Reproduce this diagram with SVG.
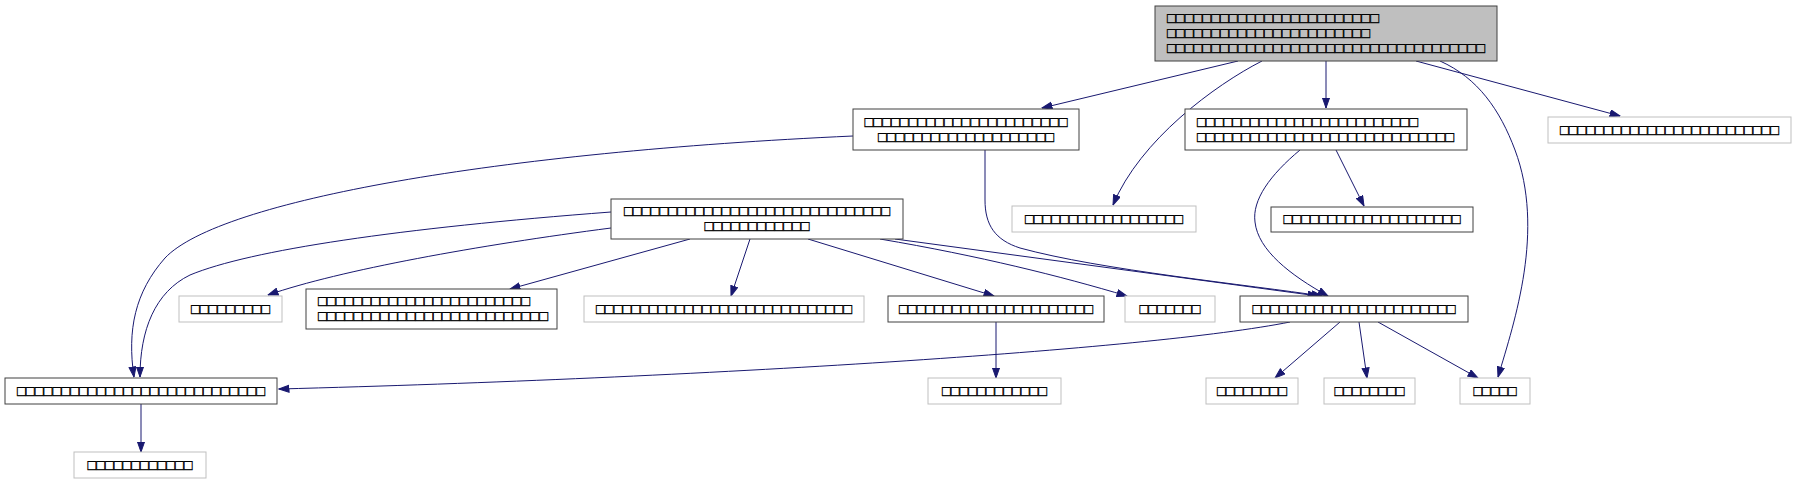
<svg xmlns="http://www.w3.org/2000/svg" width="1796" height="484" viewBox="0 0 1796 484">
<style>
.n rect{fill:#fff;stroke:#404040;stroke-width:1}
.g rect{fill:#fff;stroke:#bfbfbf;stroke-width:1}
.top rect{fill:#bfbfbf;stroke:#404040;stroke-width:1}
text{font-family:"Liberation Sans",Arial,sans-serif;font-size:14.7px;fill:#000;stroke:#000;stroke-width:0.35}
.c{text-anchor:middle}
.l{text-anchor:start}
#edges path{fill:none;stroke:#191970;stroke-width:1;marker-end:url(#ah)}
</style>
<defs>
<marker id="ah" markerUnits="userSpaceOnUse" markerWidth="11" markerHeight="9" refX="10.5" refY="4" orient="auto">
<path d="M0.5,0.5 L10.5,4 L0.5,7.5 z" fill="#191970" stroke="#191970" stroke-width="1"/>
</marker>
</defs>
<rect width="1796" height="484" fill="#fff"/>
<g id="edges">
<path d="M1238,61 L1042,108"/>
<path d="M1262,61 C1215,85 1140,140 1113,205"/>
<path d="M1326,61 L1326,108"/>
<path d="M1416,61 L1620,116"/>
<path d="M1440,61 C1478,78 1500,110 1515,150 C1545,230 1515,320 1498,377"/>
<path d="M853,136 C500,152 220,200 165,258 C135,292 127,330 134,377"/>
<path d="M611,212 C400,228 250,250 190,275 C155,292 140,330 140,377"/>
<path d="M611,228 C480,245 340,270 268,295"/>
<path d="M690,239 L510,289"/>
<path d="M750,239 L731,296"/>
<path d="M808,239 L994,296"/>
<path d="M880,239 C980,256 1060,276 1127,296"/>
<path d="M895,239 L1318,296"/>
<path d="M985,150 L985,200 C985,225 995,240 1020,248 C1100,270 1250,285 1322,296"/>
<path d="M1300,150 C1270,175 1252,200 1255,222 C1258,250 1290,275 1328,296"/>
<path d="M1336,150 L1364,206"/>
<path d="M1290,322 C1150,350 700,378 279,389"/>
<path d="M1340,322 L1275,378"/>
<path d="M1359,322 L1367,378"/>
<path d="M1378,322 L1478,378"/>
<path d="M996,322 L996,378"/>
<path d="M141,404 L141,452"/>
</g>
<g id="nT" class="top"><rect x="1155" y="6" width="342" height="55"/>
<text class="l" x="1167" y="23" textLength="212" lengthAdjust="spacingAndGlyphs">□□□□□□□□□□□□□□□□□□□□□□□□</text>
<text class="l" x="1167" y="38" textLength="203" lengthAdjust="spacingAndGlyphs">□□□□□□□□□□□□□□□□□□□□□□□</text>
<text class="l" x="1167" y="53" textLength="318" lengthAdjust="spacingAndGlyphs">□□□□□□□□□□□□□□□□□□□□□□□□□□□□□□□□□□□□</text></g>
<g id="nA" class="n"><rect x="853" y="109" width="226" height="41"/>
<text class="c" x="966" y="126.5" textLength="203" lengthAdjust="spacingAndGlyphs">□□□□□□□□□□□□□□□□□□□□□□□</text>
<text class="c" x="966" y="141.5" textLength="176" lengthAdjust="spacingAndGlyphs">□□□□□□□□□□□□□□□□□□□□</text></g>
<g id="nB" class="n"><rect x="1185" y="109" width="282" height="41"/>
<text class="l" x="1197" y="126.5" textLength="221" lengthAdjust="spacingAndGlyphs">□□□□□□□□□□□□□□□□□□□□□□□□□</text>
<text class="l" x="1197" y="141.5" textLength="257" lengthAdjust="spacingAndGlyphs">□□□□□□□□□□□□□□□□□□□□□□□□□□□□□</text></g>
<g id="nC" class="g"><rect x="1548" y="117" width="243" height="26"/>
<text class="c" x="1669.5" y="134.5" textLength="219" lengthAdjust="spacingAndGlyphs">□□□□□□□□□□□□□□□□□□□□□□□□□</text></g>
<g id="nD" class="g"><rect x="1012" y="206" width="184" height="26"/>
<text class="c" x="1104" y="223.5" textLength="158" lengthAdjust="spacingAndGlyphs">□□□□□□□□□□□□□□□□□□</text></g>
<g id="nE" class="n"><rect x="1271" y="207" width="202" height="25"/>
<text class="c" x="1372" y="224" textLength="177" lengthAdjust="spacingAndGlyphs">□□□□□□□□□□□□□□□□□□□□</text></g>
<g id="nF" class="n"><rect x="611" y="199" width="292" height="40"/>
<text class="c" x="757" y="216" textLength="266" lengthAdjust="spacingAndGlyphs">□□□□□□□□□□□□□□□□□□□□□□□□□□□□□□</text>
<text class="c" x="757" y="231" textLength="105" lengthAdjust="spacingAndGlyphs">□□□□□□□□□□□□</text></g>
<g id="nG" class="g"><rect x="179" y="296" width="103" height="26"/>
<text class="c" x="230.5" y="313.5" textLength="79" lengthAdjust="spacingAndGlyphs">□□□□□□□□□</text></g>
<g id="nH" class="n"><rect x="306" y="289" width="251" height="40"/>
<text class="l" x="318" y="306" textLength="212" lengthAdjust="spacingAndGlyphs">□□□□□□□□□□□□□□□□□□□□□□□□</text>
<text class="l" x="318" y="321" textLength="230" lengthAdjust="spacingAndGlyphs">□□□□□□□□□□□□□□□□□□□□□□□□□□</text></g>
<g id="nI" class="g"><rect x="584" y="296" width="280" height="26"/>
<text class="c" x="724" y="313.5" textLength="256" lengthAdjust="spacingAndGlyphs">□□□□□□□□□□□□□□□□□□□□□□□□□□□□□</text></g>
<g id="nJ" class="n"><rect x="888" y="296" width="216" height="26"/>
<text class="c" x="996" y="313.5" textLength="194" lengthAdjust="spacingAndGlyphs">□□□□□□□□□□□□□□□□□□□□□□</text></g>
<g id="nK" class="g"><rect x="1125" y="296" width="90" height="26"/>
<text class="c" x="1170" y="313.5" textLength="61" lengthAdjust="spacingAndGlyphs">□□□□□□□</text></g>
<g id="nL" class="n"><rect x="1240" y="296" width="228" height="26"/>
<text class="c" x="1354" y="313.5" textLength="203" lengthAdjust="spacingAndGlyphs">□□□□□□□□□□□□□□□□□□□□□□□</text></g>
<g id="nM" class="n"><rect x="5" y="378" width="272" height="26"/>
<text class="c" x="141" y="395.5" textLength="248" lengthAdjust="spacingAndGlyphs">□□□□□□□□□□□□□□□□□□□□□□□□□□□□</text></g>
<g id="nN" class="g"><rect x="928" y="378" width="133" height="26"/>
<text class="c" x="994.5" y="395.5" textLength="105" lengthAdjust="spacingAndGlyphs">□□□□□□□□□□□□</text></g>
<g id="nO" class="g"><rect x="1206" y="378" width="92" height="26"/>
<text class="c" x="1252" y="395.5" textLength="70" lengthAdjust="spacingAndGlyphs">□□□□□□□□</text></g>
<g id="nP" class="g"><rect x="1324" y="378" width="91" height="26"/>
<text class="c" x="1369.5" y="395.5" textLength="70" lengthAdjust="spacingAndGlyphs">□□□□□□□□</text></g>
<g id="nQ" class="g"><rect x="1460" y="378" width="70" height="26"/>
<text class="c" x="1495" y="395.5" textLength="43" lengthAdjust="spacingAndGlyphs">□□□□□</text></g>
<g id="nR" class="g"><rect x="74" y="452" width="132" height="26"/>
<text class="c" x="140" y="469.5" textLength="105" lengthAdjust="spacingAndGlyphs">□□□□□□□□□□□□</text></g>
</svg>
